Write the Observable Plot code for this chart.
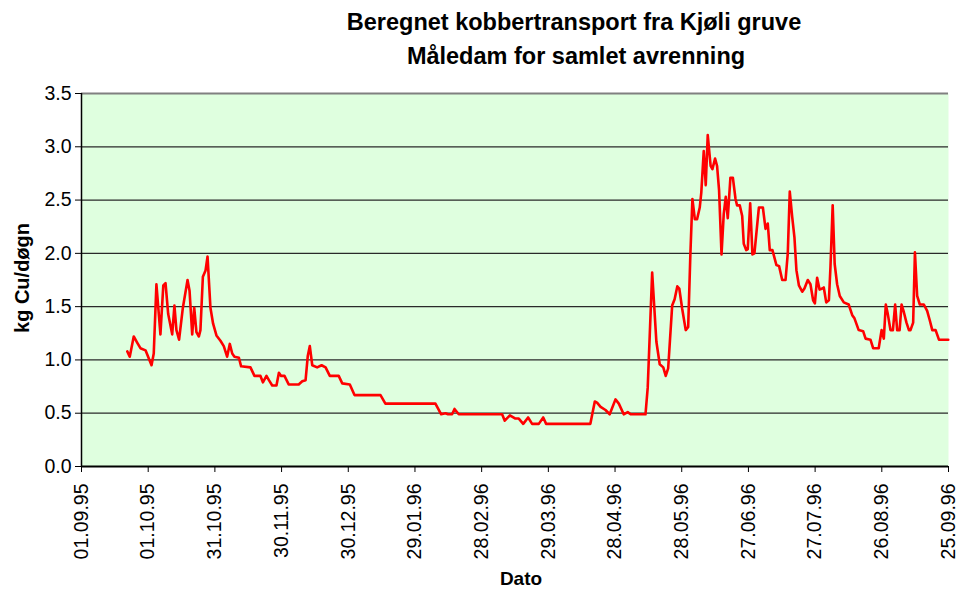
<!DOCTYPE html>
<html>
<head>
<meta charset="utf-8">
<script src="https://cdn.jsdelivr.net/npm/d3@7"></script>
<script src="https://cdn.jsdelivr.net/npm/@observablehq/plot@0.6"></script>
<style>
  html, body { margin: 0; padding: 0; background: #fff; }
  #chart { width: 959px; height: 589px; }
</style>
</head>
<body>
<div id="chart"></div>
<script>
// ---- Data ----
const titleLines = ["Beregnet kobbertransport fra Kjøli gruve", "Måledam for samlet avrenning"];
const yLabel = "kg Cu/døgn";
const xLabel = "Dato";
const xTickLabels = ["01.09.95","01.10.95","31.10.95","30.11.95","30.12.95","29.01.96","28.02.96","29.03.96","28.04.96","28.05.96","27.06.96","27.07.96","26.08.96","25.09.96"];
const yTicks = [0, 0.5, 1.0, 1.5, 2.0, 2.5, 3.0, 3.5];

// days after 01.09.95
const dayOffsets = [
  20.6, 21.7, 23.5, 25.1, 26.5, 28.8, 31.5, 32.5, 33.7, 35.5, 36.8, 37.8, 39.0, 40.8, 41.8, 42.7, 43.9, 45.6, 47.7, 48.6,
  49.8, 50.7, 51.7, 52.8, 53.5, 54.6, 55.8, 56.7, 58.0, 59.2, 60.7, 62.5, 64.0, 65.5, 66.7, 67.8, 68.8, 70.8, 71.8, 76.0,
  77.8, 80.5, 81.6, 83.2, 84.3, 85.8, 87.7, 88.8, 89.8, 91.3, 93.2, 97.7, 99.3, 100.8, 101.8, 102.7, 103.8, 106.0, 108.0, 109.8,
  111.7, 115.7, 117.3, 120.7, 122.8, 134.5, 136.7, 159.2, 161.8, 163.7, 164.9, 166.7, 167.8, 169.7, 189.2, 190.4, 192.7, 195.2, 196.7, 198.7,
  200.9, 202.7, 205.7, 207.7, 209.0, 228.9, 230.9, 231.9, 233.5, 235.7, 237.6, 240.2, 241.7, 243.9, 245.7, 247.0, 253.7, 254.7, 256.7, 258.6,
  260.1, 261.7, 262.8, 263.9, 265.7, 266.8, 268.0, 268.9, 270.2, 271.8, 272.9, 273.9, 274.8, 275.9, 276.9, 278.1, 278.8, 279.9, 280.8, 281.7,
  283.0, 283.8, 285.0, 285.9, 286.8, 287.9, 288.9, 289.8, 290.7, 291.9, 293.0, 294.2, 294.9, 296.1, 297.2, 297.9, 299.0, 299.7, 300.8, 301.8,
  302.7, 304.7, 306.5, 307.7, 308.7, 309.6, 310.8, 312.6, 313.8, 315.2, 316.7, 317.7, 318.6, 319.7, 320.7, 321.6, 322.7, 324.2, 325.2, 326.7,
  327.9, 329.1, 329.9, 330.9, 332.0, 333.2, 333.9, 335.0, 336.2, 336.9, 337.9, 338.8, 339.9, 341.1, 342.9, 345.1, 346.7, 347.7, 349.6, 351.6,
  352.7, 354.9, 356.1, 358.6, 359.9, 360.9, 361.8, 362.7, 363.9, 365.0, 366.0, 366.9, 368.0, 368.9, 369.9, 371.1, 372.2, 372.9, 374.1, 374.9,
  375.9, 377.1, 378.9, 380.4, 381.6, 382.7, 384.2, 385.7, 389.9
];
const copperKg = [
  1.08, 1.03, 1.22, 1.16, 1.11, 1.09, 0.95, 1.06, 1.71, 1.24, 1.70, 1.72, 1.43, 1.24, 1.51, 1.28, 1.19, 1.49, 1.75, 1.65,
  1.24, 1.49, 1.26, 1.22, 1.28, 1.78, 1.84, 1.97, 1.49, 1.34, 1.23, 1.18, 1.13, 1.03, 1.15, 1.06, 1.03, 1.02, 0.94, 0.93,
  0.85, 0.85, 0.79, 0.85, 0.81, 0.76, 0.76, 0.88, 0.85, 0.85, 0.77, 0.77, 0.80, 0.81, 1.04, 1.13, 0.95, 0.93, 0.95, 0.93,
  0.85, 0.85, 0.78, 0.77, 0.67, 0.67, 0.59, 0.59, 0.49, 0.50, 0.49, 0.49, 0.54, 0.49, 0.49, 0.43, 0.48, 0.45, 0.45, 0.40,
  0.46, 0.40, 0.40, 0.46, 0.40, 0.40, 0.61, 0.60, 0.56, 0.53, 0.49, 0.63, 0.59, 0.49, 0.51, 0.49, 0.49, 0.74, 1.82, 1.17,
  0.96, 0.93, 0.85, 0.92, 1.51, 1.57, 1.69, 1.67, 1.48, 1.28, 1.31, 2.00, 2.51, 2.32, 2.32, 2.43, 2.57, 2.96, 2.64, 3.11,
  2.82, 2.79, 2.89, 2.82, 2.59, 1.99, 2.37, 2.53, 2.33, 2.71, 2.71, 2.51, 2.45, 2.45, 2.35, 2.09, 2.03, 2.04, 2.47, 1.99,
  2.00, 2.43, 2.43, 2.23, 2.28, 2.03, 2.03, 1.89, 1.88, 1.75, 1.75, 2.00, 2.58, 2.34, 2.15, 1.84, 1.70, 1.64, 1.67, 1.75,
  1.71, 1.56, 1.53, 1.77, 1.66, 1.67, 1.68, 1.54, 1.56, 1.87, 2.45, 1.90, 1.71, 1.60, 1.54, 1.52, 1.42, 1.39, 1.28, 1.27,
  1.20, 1.19, 1.11, 1.11, 1.28, 1.20, 1.52, 1.43, 1.28, 1.28, 1.52, 1.28, 1.28, 1.52, 1.45, 1.35, 1.28, 1.28, 1.35, 2.01,
  1.60, 1.52, 1.52, 1.46, 1.37, 1.28, 1.28, 1.19, 1.19
];

// ---- Build ----
const parseTick = d3.utcParse("%d.%m.%y");
const xTickDates = xTickLabels.map(parseTick);
const startDate = xTickDates[0];
const data = dayOffsets.map((d, i) => ({
  date: new Date(startDate.getTime() + d * 864e5),
  value: copperKg[i]
}));

const font = "'Liberation Sans', Arial, Helvetica, sans-serif";

const chart = Plot.plot({
  width: 959,
  height: 589,
  marginLeft: 81,
  marginRight: 11,
  marginTop: 93,
  marginBottom: 123,
  style: { fontFamily: font, fontSize: "19.5px", color: "#000", background: "#fff", overflow: "visible" },
  x: { type: "utc", domain: [xTickDates[0], xTickDates[xTickDates.length - 1]] },
  y: { domain: [yTicks[0], yTicks[yTicks.length - 1]] },
  marks: [
    Plot.frame({ fill: "#dfffdf", stroke: "none" }),
    Plot.gridY(yTicks.slice(1, -1), { stroke: "#2a2a2a", strokeOpacity: 1, strokeWidth: 1.3 }),
    Plot.gridY(yTicks.slice(-1), { stroke: "#808080", strokeOpacity: 1, strokeWidth: 2 }),
    Plot.ruleY(yTicks.slice(0, 1), { stroke: "#000", strokeWidth: 2 }),
    Plot.ruleX(xTickDates.slice(0, 1), { stroke: "#000", strokeWidth: 1.5 }),
    Plot.axisY({ ticks: yTicks, tickFormat: d3.format(".1f"), tickSize: 6, tickPadding: 4, label: null, fontSize: 19.5, fill: "#000", stroke: "#000" }),
    Plot.axisX({ ticks: xTickDates, tickFormat: (d, i) => xTickLabels[i], tickRotate: -90, tickSize: 6, tickPadding: 11, label: null, fontSize: 19.5, fill: "#000", stroke: "#000" }),
    Plot.line(data, { x: "date", y: "value", stroke: "#ff0000", strokeWidth: 2.6 })
  ]
});

document.getElementById("chart").appendChild(chart);

const svg = d3.select(chart);
svg.append("text")
  .attr("x", 574).attr("y", 30)
  .attr("text-anchor", "middle")
  .attr("font-family", font).attr("font-weight", "bold").attr("font-size", 23.5)
  .attr("fill", "#000")
  .text(titleLines[0]);
svg.append("text")
  .attr("x", 576).attr("y", 64)
  .attr("text-anchor", "middle")
  .attr("font-family", font).attr("font-weight", "bold").attr("font-size", 23.5)
  .attr("fill", "#000")
  .text(titleLines[1]);
svg.append("text")
  .attr("transform", "translate(29,278) rotate(-90)")
  .attr("text-anchor", "middle")
  .attr("font-family", font).attr("font-weight", "bold").attr("font-size", 20)
  .attr("fill", "#000")
  .text(yLabel);
svg.append("text")
  .attr("x", 521).attr("y", 585)
  .attr("text-anchor", "middle")
  .attr("font-family", font).attr("font-weight", "bold").attr("font-size", 19)
  .attr("fill", "#000")
  .text(xLabel);
</script>
</body>
</html>
